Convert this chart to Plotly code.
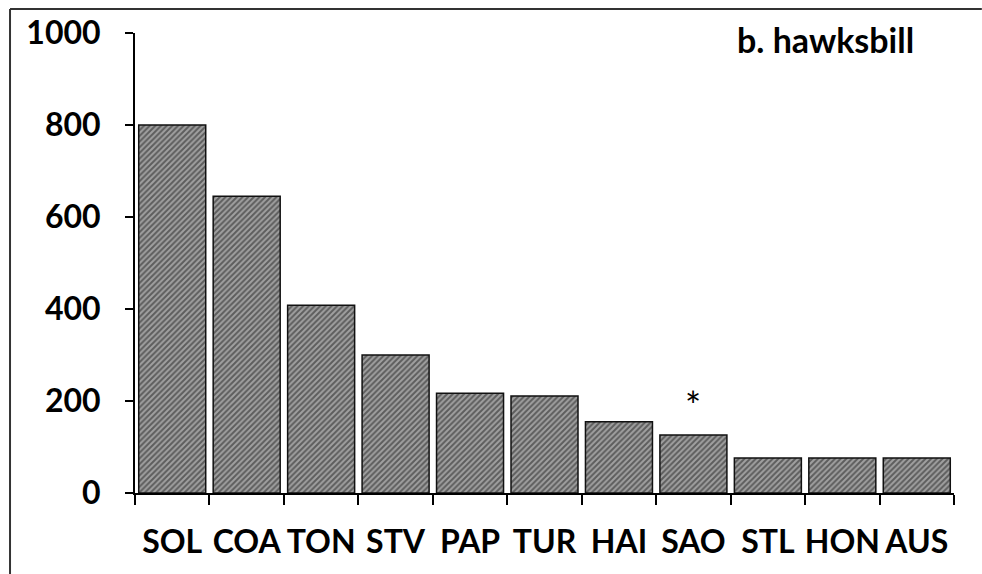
import plotly.graph_objects as go

categories = ["SOL", "COA", "TON", "STV", "PAP", "TUR", "HAI", "SAO", "STL", "HON", "AUS"]
values = [800, 645, 408, 300, 217, 211, 155, 126, 76, 76, 76]
y_ticks = [0, 200, 400, 600, 800, 1000]
panel_title = "b. hawksbill"
star_category = "SAO"
star_value = 192

FONT = "Lato, 'Open Sans', sans-serif"

fig = go.Figure()
fig.add_trace(go.Bar(
    x=categories,
    y=values,
    marker=dict(
        color="#8a8a8a",
        line=dict(color="#111111", width=1.5),
        pattern=dict(shape="/", fgcolor="#1a1a1a", bgcolor="#a0a0a0", size=4, solidity=0.5),
    ),
    showlegend=False,
    hoverinfo="skip",
))

fig.update_layout(
    width=982, height=574,
    margin=dict(l=135, r=28, t=33, b=81, autoexpand=False),
    paper_bgcolor="white", plot_bgcolor="white",
    bargap=0.1,
    font=dict(family=FONT, color="black"),
    xaxis=dict(
        showline=True, linecolor="black", linewidth=2,
        ticks="outside", tickson="boundaries", ticklen=10, tickwidth=2, tickcolor="black",
        tickfont=dict(size=32, family=FONT, weight="bold"),
        tickangle=0, automargin=False,
        ticklabelstandoff=20,
        showgrid=False, zeroline=False,
    ),
    yaxis=dict(
        range=[0, 1000], tickvals=y_ticks,
        showline=True, linecolor="black", linewidth=2,
        ticks="outside", ticklen=8, tickwidth=2, tickcolor="black",
        tickfont=dict(size=32, family=FONT, weight="bold"),
        automargin=False,
        ticklabelstandoff=18,
        showgrid=False, zeroline=False,
    ),
    annotations=[
        dict(text=panel_title, x=0.8425, y=0.985, xref="paper", yref="paper",
             showarrow=False, xanchor="center", yanchor="middle",
             font=dict(size=34, family=FONT, weight="bold", color="black")),
        dict(text="*", x=star_category, y=star_value, xref="x", yref="y",
             showarrow=False, xanchor="center", yanchor="middle",
             font=dict(size=38, family=FONT, color="black")),
    ],
    shapes=[
        dict(type="line", xref="paper", yref="paper",
             x0=-0.1526, x1=-0.1526, y0=-0.18, y1=1.052,
             line=dict(color="#333333", width=2), layer="above"),
        dict(type="line", xref="paper", yref="paper",
             x0=-0.1526, x1=1.034, y0=1.052, y1=1.052,
             line=dict(color="#333333", width=2), layer="above"),
    ],
)

fig.write_html(
    "out.html",
    config={"displayModeBar": False},
    post_script="document.body.style.margin='0';document.body.style.overflow='hidden';",
)
